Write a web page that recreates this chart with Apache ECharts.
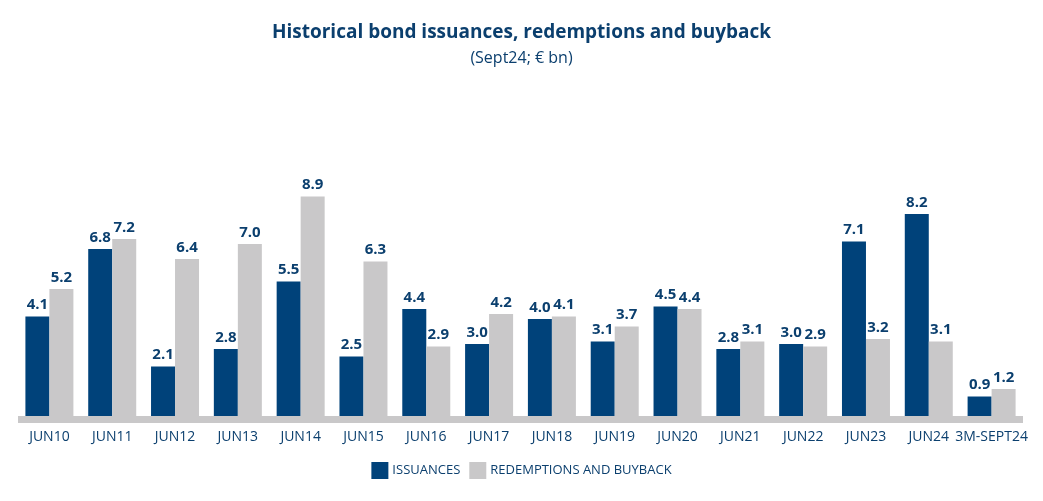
<!DOCTYPE html>
<html>
<head>
<meta charset="utf-8">
<script src="https://cdn.jsdelivr.net/npm/echarts@6/dist/echarts.min.js"></script>
<style>html,body{margin:0;padding:0;background:#fff;}#c{width:1043px;height:501px;}</style>
</head>
<body>
<div id="c"></div>
<script>
const categories = ['JUN10','JUN11','JUN12','JUN13','JUN14','JUN15','JUN16','JUN17','JUN18','JUN19','JUN20','JUN21','JUN22','JUN23','JUN24','3M-SEPT24'];
const issuances = [4.1,6.8,2.1,2.8,5.5,2.5,4.4,3.0,4.0,3.1,4.5,2.8,3.0,7.1,8.2,0.9];
const redemptions = [5.2,7.2,6.4,7.0,8.9,6.3,2.9,4.2,4.1,3.7,4.4,3.1,2.9,3.2,3.1,1.2];

const BLUE = '#00427a';
const GRAY = '#c9c8c9';
const TXT = '#0b3f6e';
const FONT = 'Open Sans';

const chart = echarts.init(document.getElementById('c'), null, {renderer:'canvas'});
const label = {
  show: true, position: 'top', distance: 4,
  color: TXT, fontFamily: FONT, fontWeight: 'bold', fontSize: 15,
  formatter: p => p.value.toFixed(1)
};
chart.setOption({
  backgroundColor: '#fff',
  animation: false,
  title: {
    text: 'Historical bond issuances, redemptions and buyback',
    subtext: '(Sept24; € bn)',
    left: 'center', top: 18, itemGap: 8,
    textStyle: {color: TXT, fontFamily: FONT, fontWeight: 'bold', fontSize: 19},
    subtextStyle: {color: TXT, fontFamily: FONT, fontSize: 16}
  },
  legend: {
    bottom: 17, left: 'center',
    itemWidth: 17, itemHeight: 17, itemGap: 9,
    icon: 'rect',
    textStyle: {color: TXT, fontFamily: FONT, fontSize: 13, padding: [0,0,0,-1]},
    data: ['ISSUANCES', 'REDEMPTIONS AND BUYBACK']
  },
  grid: {left: 18, right: 20, top: 169, bottom: 82, containLabel: false},
  xAxis: {
    type: 'category', data: categories, z: 5,
    axisLine: {lineStyle: {color: GRAY, width: 7, cap: 'butt'}},
    axisTick: {show: false},
    axisLabel: {color: TXT, fontFamily: FONT, fontSize: 14, margin: 11, interval: 0}
  },
  yAxis: {
    type: 'value', min: 0, max: 10, interval: 2,
    show: false
  },
  series: [
    {name: 'ISSUANCES', type: 'bar', data: issuances, itemStyle: {color: BLUE},
     barWidth: 24, barGap: '0%', label: label},
    {name: 'REDEMPTIONS AND BUYBACK', type: 'bar', data: redemptions, itemStyle: {color: GRAY},
     barWidth: 24, barGap: '0%', label: label}
  ]
});
</script>
</body>
</html>
